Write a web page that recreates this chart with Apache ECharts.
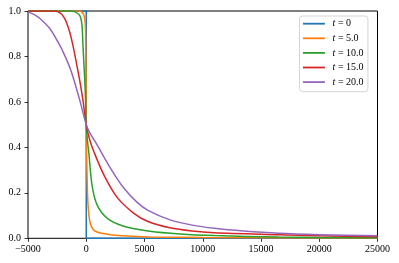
<!DOCTYPE html>
<html><head><meta charset="utf-8">
<script src="https://cdn.jsdelivr.net/npm/echarts@6/dist/echarts.min.js"></script>
<style>html,body{margin:0;padding:0;background:#fff}#c{width:399px;height:263px}</style>
</head><body><div id="c"></div>
<script>
var tLabels = ['0', '5.0', '10.0', '15.0', '20.0'];
var colors = ['#1f77b4', '#ff7f0e', '#2ca02c', '#d62728', '#9467bd'];
var xTicks = [-5000, 0, 5000, 10000, 15000, 20000, 25000];
var yTicks = [0.0, 0.2, 0.4, 0.6, 0.8, 1.0];

var t0 = [[-5000, 1], [0, 1], [0, 0], [25000, 0]];
var t5 = [[-5000, 1], [-600, 1], [-426, 0.997], [-200, 0.982], [-80, 0.94], [-30, 0.8], [0, 0.5],
  [60, 0.3], [150, 0.15], [350, 0.065], [785, 0.031], [2075, 0.016], [4000, 0.009], [5465, 0.006],
  [10000, 0.003], [25000, 0.001]];
var t10 = [[-5000, 1], [-1300, 1], [-1000, 0.997], [-570, 0.982], [-370, 0.94], [-285, 0.85],
  [-200, 0.77], [-80, 0.638], [0, 0.5], [100, 0.43], [207, 0.383], [490, 0.236], [920, 0.148],
  [1785, 0.089], [3220, 0.053], [5465, 0.031], [8050, 0.019], [11000, 0.012], [16500, 0.0057],
  [25000, 0.002]];
var t15 = [[-5000, 1], [-3000, 1], [-2440, 0.997], [-1860, 0.968], [-1430, 0.909], [-1150, 0.85],
  [-850, 0.773], [-570, 0.697], [-285, 0.608], [0, 0.5], [290, 0.435], [640, 0.383], [1500, 0.28],
  [2650, 0.18], [4085, 0.11], [5300, 0.074], [7190, 0.046], [9090, 0.032], [11000, 0.0246],
  [16500, 0.016], [20000, 0.011], [25000, 0.007]];
var t20 = [[-5000, 0.996], [-4500, 0.985], [-4000, 0.968], [-3150, 0.924], [-2440, 0.865],
  [-1860, 0.806], [-1280, 0.733], [-570, 0.61], [0, 0.5], [300, 0.465], [920, 0.412], [2075, 0.309],
  [3220, 0.221], [4370, 0.158], [5300, 0.123], [7190, 0.081], [9090, 0.058], [11000, 0.044],
  [13500, 0.032], [16500, 0.022], [20000, 0.016], [25000, 0.011]];
var seriesData = [t0, t5, t10, t15, t20];

var font = '"Liberation Serif", "DejaVu Serif", serif';
var chart = echarts.init(document.getElementById('c'), null, {renderer: 'canvas'});
var series = seriesData.map(function (d, i) {
  return {
    name: 't = ' + tLabels[i],
    type: 'line',
    data: d,
    showSymbol: false,
    symbol: 'none',
    smooth: i === 0 ? false : 0.3,
    lineStyle: {width: 1.5, color: colors[i]},
    itemStyle: {color: colors[i]},
    animation: false,
    z: 2 + i
  };
});
chart.setOption({
  animation: false,
  grid: {left: 28, right: 21.5, top: 11, bottom: 24.7, show: true, borderColor: '#000', borderWidth: 1, backgroundColor: 'transparent'},
  xAxis: {
    type: 'value', min: -5000, max: 25000, interval: 5000,
    axisLine: {show: false, onZero: false},
    axisTick: {show: true, inside: false, length: 3.5, lineStyle: {color: '#000', width: 0.8}},
    splitLine: {show: false},
    axisLabel: {margin: 6, color: '#000', fontFamily: font, fontSize: 10,
      formatter: function (v) { return v < 0 ? '\u2212' + Math.abs(v) : String(v); }}
  },
  yAxis: {
    type: 'value', min: 0, max: 1, interval: 0.2,
    axisLine: {show: false, onZero: false},
    axisTick: {show: true, inside: false, length: 3.5, lineStyle: {color: '#000', width: 0.8}},
    splitLine: {show: false},
    axisLabel: {margin: 7, color: '#000', fontFamily: font, fontSize: 10,
      formatter: function (v) { return v.toFixed(1); }}
  },
  legend: {
    orient: 'vertical', left: 299.5, top: 16,
    padding: [1.7, 4.4, 3.6, 3.4],
    itemWidth: 22, itemHeight: 1.8, itemGap: 2.6, icon: 'rect',
    selectedMode: false,
    backgroundColor: '#fff', borderColor: '#d4d4d4', borderWidth: 1, borderRadius: 3,
    data: series.map(function (s) { return s.name; }),
    formatter: function (name) {
      var v = name.replace('t = ', '');
      return '{it|t} {n|= ' + v + '}';
    },
    textStyle: {
      color: '#000', fontFamily: font, fontSize: 10, lineHeight: 12,
      rich: {
        it: {fontStyle: 'italic', fontFamily: font, fontSize: 10, lineHeight: 12, padding: [0, 0, 0, 2.7], color: '#000'},
        n: {fontFamily: font, fontSize: 10, lineHeight: 12, color: '#000'}
      }
    }
  },
  series: series
});
</script></body></html>
